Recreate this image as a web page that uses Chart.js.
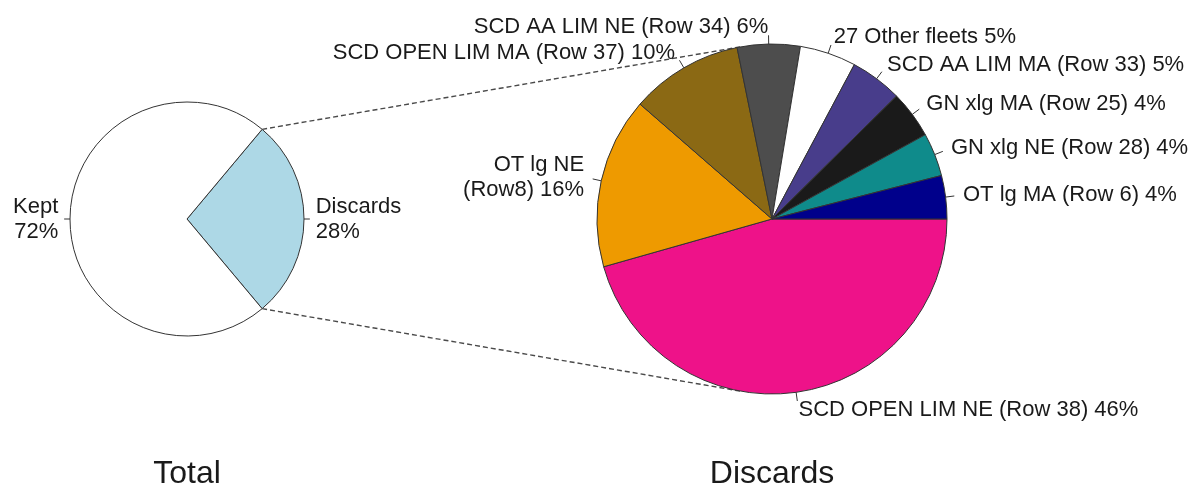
<!DOCTYPE html>
<html><head><meta charset="utf-8">
<script src="https://cdn.jsdelivr.net/npm/chart.js@4/dist/chart.umd.min.js"></script>
<style>
html,body{margin:0;padding:0;background:#fff;overflow:hidden}
#wrap{position:relative;width:1201px;height:498px}
canvas{position:absolute;left:0;top:0}
</style></head>
<body><div id="wrap"><canvas id="left" width="1201" height="498"></canvas><canvas id="right" width="1201" height="498"></canvas></div>
<script>
// ---- data ----
const totalLabels = ['Kept', 'Discards'];
const totalValues = [72.2, 27.8];
const totalColors = ['#FFFFFF', '#ADD8E6'];

// in the order R draws them (counter-clockwise from 3 o'clock)
const fleetLabels = ['OT lg MA (Row 6)', 'GN xlg NE (Row 28)', 'GN xlg MA (Row 25)', 'SCD AA LIM MA (Row 33)',
  '27 Other fleets', 'SCD AA LIM NE (Row 34)', 'SCD OPEN LIM MA (Row 37)', 'OT lg NE\n(Row8)', 'SCD OPEN LIM NE (Row 38)'];
const fleetValues = [4.0, 4.0, 4.4, 4.8, 5.2, 5.8, 10.4, 15.8, 45.6];
const fleetColors = ['#00008B', '#0F8B8B', '#1A1A1A', '#483D8B', '#FFFFFF', '#4D4D4D', '#8B6914', '#EE9A00', '#EE1289'];

const chartTitles = ['Total', 'Discards'];

// ---- helpers ----
const FONT = '"Liberation Sans", Arial, Helvetica, sans-serif';
function pctText(name, v, sep) { return name + sep + Math.round(v) + '%'; }

function labelPlugin(texts, title) {
  return {
    id: 'rlabels',
    afterDatasetsDraw(chart) {
      const ctx = chart.ctx;
      const meta = chart.getDatasetMeta(0);
      ctx.save();
      ctx.font = '22px ' + FONT;
      ctx.fillStyle = '#1a1a1a';
      ctx.strokeStyle = '#333';
      ctx.lineWidth = 1;
      let cx = 0;
      meta.data.forEach((arc, i) => {
        const p = arc.getProps(['x', 'y', 'startAngle', 'endAngle', 'outerRadius'], true);
        cx = p.x;
        const mid = (p.startAngle + p.endAngle) / 2;
        const c = Math.cos(mid), s = Math.sin(mid);
        const r = p.outerRadius;
        ctx.beginPath();
        ctx.moveTo(p.x + c * r, p.y + s * r);
        ctx.lineTo(p.x + c * r * 1.05, p.y + s * r * 1.05);
        ctx.stroke();
        const tx = p.x + c * r * 1.1, ty = p.y + s * r * 1.1;
        ctx.textAlign = c < 0 ? 'right' : 'left';
        ctx.textBaseline = 'middle';
        const lines = texts[i].split('\n');
        const lh = 25;
        lines.forEach((ln, k) => ctx.fillText(ln, tx, ty + (k - (lines.length - 1) / 2) * lh));
      });
      ctx.font = '32px ' + FONT;
      ctx.textAlign = 'center';
      ctx.textBaseline = 'alphabetic';
      ctx.fillStyle = '#1a1a1a';
      ctx.fillText(title, cx, 483);
      ctx.restore();
    }
  };
}

const baseOptions = (padding) => ({
  responsive: false,
  animation: false,
  events: [],
  layout: { padding },
  plugins: { legend: { display: false }, tooltip: { enabled: false }, title: { display: false } }
});

// ---- left pie: Total ----
const iDisc = totalLabels.indexOf('Discards');
const iKept = totalLabels.indexOf('Kept');
const leftOrder = [iDisc, iKept];
const leftTexts = leftOrder.map(i => pctText(totalLabels[i], totalValues[i], '\n'));
const leftChart = new Chart(document.getElementById('left'), {
  type: 'pie',
  data: {
    labels: leftOrder.map(i => totalLabels[i]),
    datasets: [{
      data: leftOrder.map(i => totalValues[i]),
      backgroundColor: leftOrder.map(i => totalColors[i]),
      borderColor: '#333',
      borderWidth: 1,
      radius: 117,
      hoverOffset: 0,
      clip: false
    }]
  },
  options: Object.assign(baseOptions({ left: 0, right: 827, top: 0, bottom: 60 }), {
    rotation: 90 - totalValues[iDisc] / 100 * 180
  }),
  plugins: [labelPlugin(leftTexts, chartTitles[0])]
});

// ---- right pie: Discards by fleet ----
const rightOrder = fleetLabels.map((_, i) => i).reverse();
const rightTexts = rightOrder.map(i => pctText(fleetLabels[i], fleetValues[i], ' '));

const connectorPlugin = {
  id: 'connectors',
  beforeDatasetsDraw(chart) {
    const lm = leftChart.getDatasetMeta(0);
    const disc = lm.data[0].getProps(['x', 'y', 'startAngle', 'endAngle', 'outerRadius'], true);
    const rm = chart.getDatasetMeta(0).data[0].getProps(['x', 'y', 'outerRadius'], true);
    const pts = [disc.startAngle, disc.endAngle].map(a => ({
      x: disc.x + disc.outerRadius * Math.cos(a), y: disc.y + disc.outerRadius * Math.sin(a)
    }));
    const ctx = chart.ctx;
    ctx.save();
    ctx.strokeStyle = '#4a4a4a';
    ctx.lineWidth = 1.4;
    ctx.setLineDash([5, 3]);
    pts.forEach((P) => {
      const dx = P.x - rm.x, dy = P.y - rm.y;
      const d = Math.hypot(dx, dy);
      const base = Math.atan2(dy, dx);
      const a = Math.acos(rm.outerRadius / d);
      const cands = [base + a, base - a].map(t => ({ x: rm.x + rm.outerRadius * Math.cos(t), y: rm.y + rm.outerRadius * Math.sin(t) }));
      cands.sort((u, v) => u.y - v.y);
      const T = P.y < rm.y ? cands[0] : cands[1];
      ctx.beginPath();
      ctx.moveTo(P.x, P.y);
      ctx.lineTo(T.x, T.y);
      ctx.stroke();
    });
    ctx.restore();
  }
};

const rightChart = new Chart(document.getElementById('right'), {
  type: 'pie',
  data: {
    labels: rightOrder.map(i => fleetLabels[i]),
    datasets: [{
      data: rightOrder.map(i => fleetValues[i]),
      backgroundColor: rightOrder.map(i => fleetColors[i]),
      borderColor: '#333',
      borderWidth: 1,
      radius: 175,
      hoverOffset: 0,
      clip: false
    }]
  },
  options: Object.assign(baseOptions({ left: 472, right: 129, top: 0, bottom: 60 }), {
    rotation: 90
  }),
  plugins: [connectorPlugin, labelPlugin(rightTexts, chartTitles[1])]
});
</script>
</body></html>
